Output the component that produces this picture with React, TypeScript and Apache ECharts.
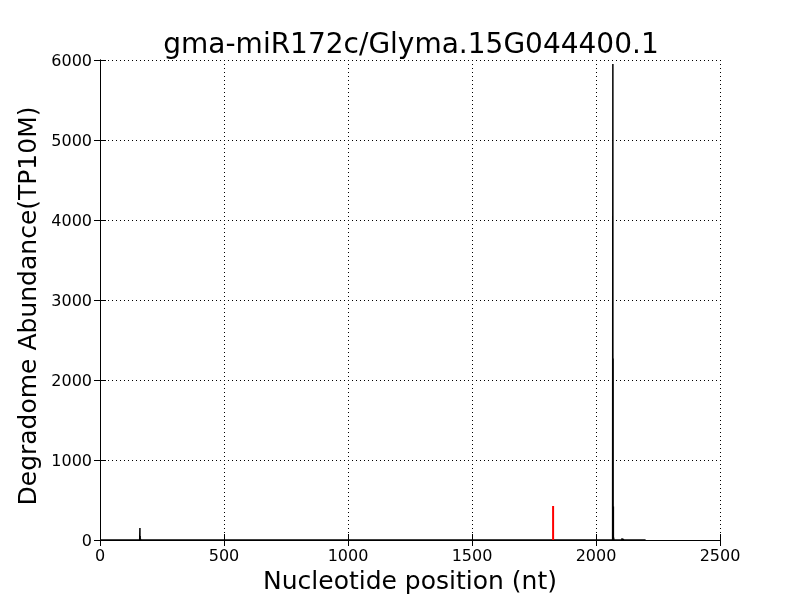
import React, { useEffect, useRef } from "react";
import * as echarts from "echarts";

const titleText = "gma-miR172c/Glyma.15G044400.1";
const xName = "Nucleotide position (nt)";
const yName = "Degradome Abundance(TP10M)";

// sparse degradome signal (position, abundance)
const positions = [161, 162, 163, 230, 320, 555, 560, 1200, 1300, 1530, 1540, 1700, 1900, 1940, 1960, 2068, 2069, 2070, 2071, 2105, 2110];
const abundances = [150, 50, 15, 5, 5, 8, 6, 4, 6, 8, 5, 4, 5, 6, 8, 5950, 2270, 420, 30, 20, 15];
const transcriptLength = 2200;

const targetPos = [1827];
const targetVal = [425];

export default function App() {
  const ref = useRef<HTMLDivElement>(null);
  useEffect(() => {
    if (!ref.current) return;
    const chart = echarts.init(ref.current, undefined, { renderer: "svg" });
    const pts: [number, number][] = [[0, 0]];
    positions.forEach((p, i) => {
      pts.push([p - 1, 0]);
      pts.push([p, abundances[i]]);
      pts.push([p + 1, 0]);
    });
    pts.push([transcriptLength, 0]);
    pts.sort((a, b) => a[0] - b[0]);
    const font = "DejaVu Sans";
    const tickStyle = { show: true, inside: true, length: 6, lineStyle: { color: "#000", width: 1 } };
    const plain = (v: number) => String(v);
    chart.setOption({
      animation: false,
      title: {
        text: titleText,
        left: 406,
        textAlign: "center",
        top: 24,
        textStyle: { fontFamily: font, fontSize: 28, fontWeight: "normal", color: "#000" },
      },
      grid: { left: 100, right: 80, top: 60, bottom: 60, show: false },
      xAxis: [
        {
          type: "value",
          min: 0,
          max: 2500,
          interval: 500,
          name: xName,
          nameLocation: "middle",
          nameGap: 28,
          nameTextStyle: { fontFamily: font, fontSize: 25, color: "#000" },
          axisLine: { show: true, onZero: false, lineStyle: { color: "#000", width: 1 } },
          axisTick: tickStyle,
          axisLabel: { fontFamily: font, fontSize: 16, color: "#000", margin: 7, formatter: plain },
          splitLine: { show: true, lineStyle: { color: "#000", type: [1, 3], width: 1 } },
        },
        {
          type: "value",
          position: "top",
          min: 0,
          max: 2500,
          interval: 500,
          axisLine: { show: true, lineStyle: { color: "#000", width: 1 } },
          axisTick: tickStyle,
          axisLabel: { show: false },
          splitLine: { show: false },
        },
      ],
      yAxis: [
        {
          type: "value",
          min: 0,
          max: 6000,
          interval: 1000,
          name: yName,
          nameLocation: "middle",
          nameGap: 54,
          nameTextStyle: { fontFamily: font, fontSize: 25, color: "#000", padding: [0, 12, 0, 0] },
          axisLine: { show: true, onZero: false, lineStyle: { color: "#000", width: 1 } },
          axisTick: tickStyle,
          axisLabel: { fontFamily: font, fontSize: 16, color: "#000", margin: 8, formatter: plain },
          splitLine: { show: true, lineStyle: { color: "#000", type: [1, 3], width: 1 } },
        },
        {
          type: "value",
          position: "right",
          min: 0,
          max: 6000,
          interval: 1000,
          axisLine: { show: true, lineStyle: { color: "#000", width: 1 } },
          axisTick: tickStyle,
          axisLabel: { show: false },
          splitLine: { show: false },
        },
      ],
      series: [
        {
          type: "line",
          data: pts,
          showSymbol: false,
          symbol: "none",
          lineStyle: { color: "#000", width: 1.5 },
          z: 3,
        },
        {
          type: "line",
          data: [
            [targetPos[0], 0],
            [targetPos[0], targetVal[0]],
          ],
          symbol: "none",
          lineStyle: { color: "#ff0000", width: 2 },
          z: 4,
        },
      ],
    });
    return () => chart.dispose();
  }, []);
  return <div ref={ref} style={{ position: "fixed", left: 0, top: 0, width: 800, height: 600 }} />;
}
